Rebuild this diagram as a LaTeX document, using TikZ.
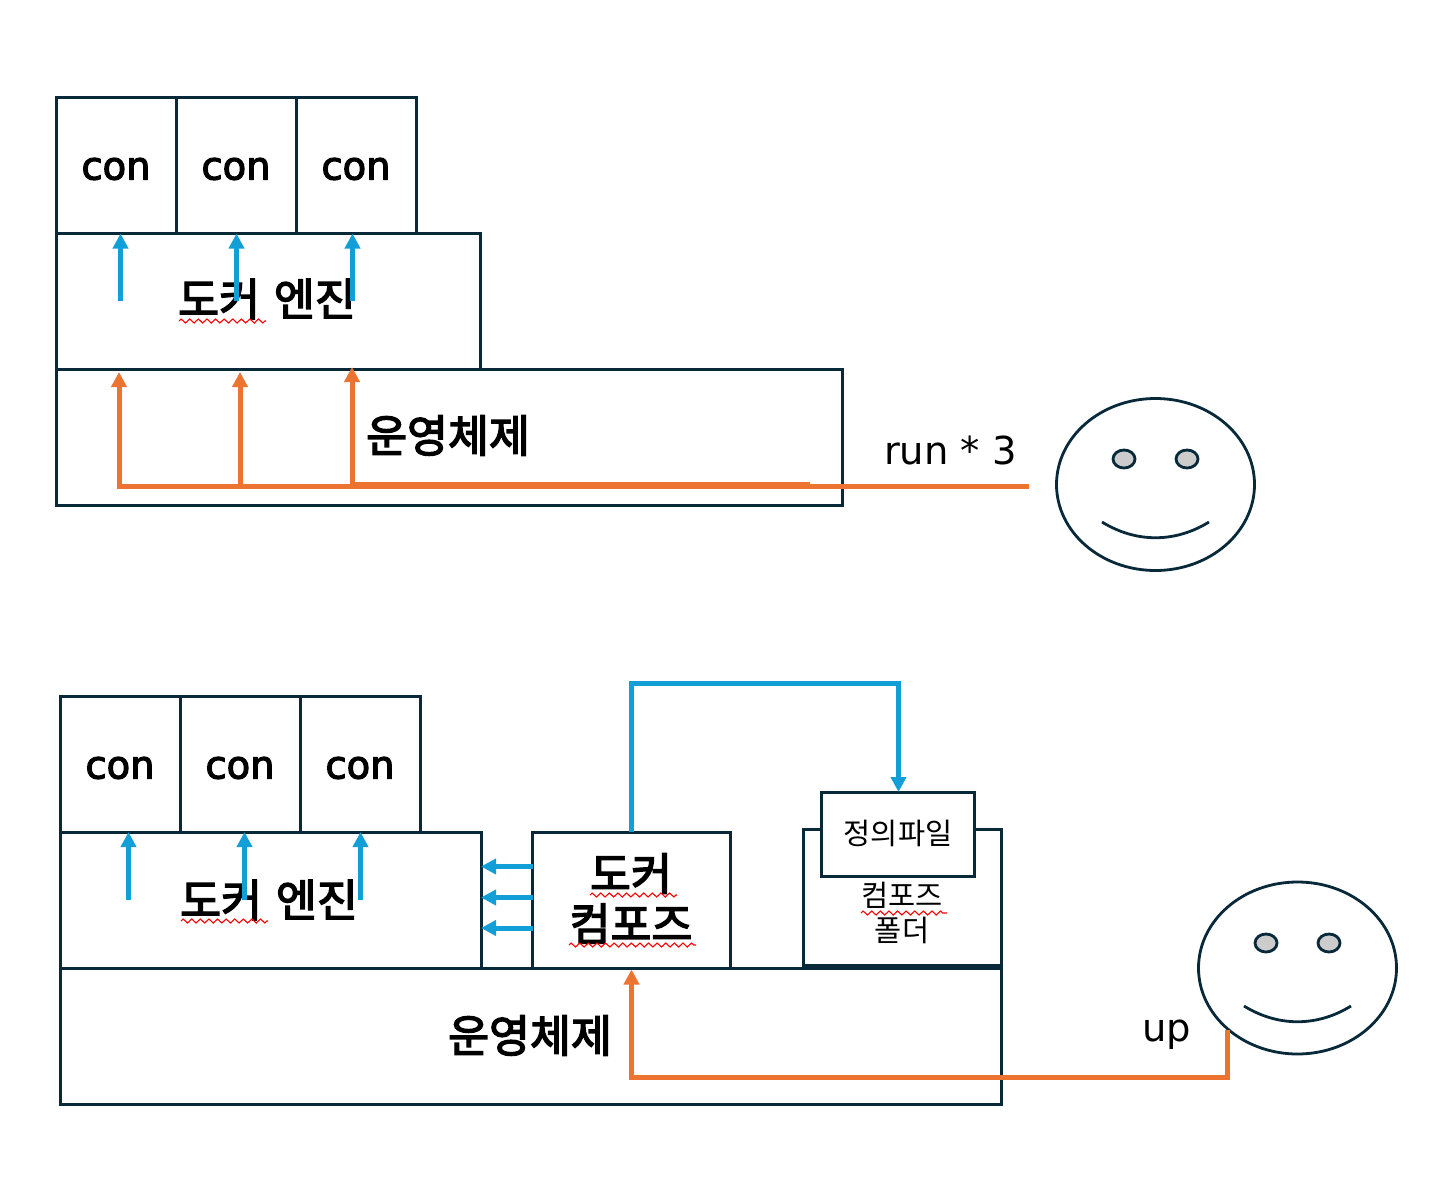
\documentclass[tikz,border=0pt]{standalone}
\usepackage{fontspec}
\usetikzlibrary{arrows.meta,shapes.geometric,decorations.pathmorphing}
\setmainfont{Noto Sans CJK KR}
\newfontfamily\krbold[FakeBold=3.2]{Noto Sans CJK KR}
\newfontfamily\latbold[FakeBold=3.2]{DejaVu Sans}
\newfontfamily\latreg{DejaVu Sans}
\definecolor{ink}{HTML}{08293A}
\definecolor{bluea}{HTML}{129FD8}
\definecolor{orangea}{HTML}{ED7331}
\tikzset{
  box/.style={draw=ink,line width=3pt,fill=white,rectangle,inner sep=0pt,outer sep=0pt,minimum width=#1},
  bigk/.style={font=\krbold\fontsize{44.5}{50}\selectfont,text=black,inner sep=0pt,align=center},
  conlab/.style={font=\latbold\fontsize{38.5}{44}\selectfont,text=black,inner sep=0pt},
  smallk/.style={font=\fontsize{29.5}{33}\selectfont,text=black,inner sep=0pt,align=center},
  lat/.style={font=\latreg\fontsize{38.5}{44}\selectfont,text=black,inner sep=0pt},
  bluearrow/.style={draw=bluea,line width=5pt,-{Triangle[length=15pt,width=15pt]}},
  orangearrow/.style={draw=orangea,line width=5pt,-{Triangle[length=15pt,width=15pt]}},
  orangeline/.style={draw=orangea,line width=5pt},
  squig/.style={draw=red,line width=1.1pt,decorate,decoration={zigzag,segment length=8.6pt,amplitude=2pt}},
  faceshape/.style={draw=ink,line width=2.8pt,ellipse,inner sep=0pt,outer sep=0pt,minimum width=198pt,minimum height=172pt,fill=white},
  eyeshape/.style={draw=ink,line width=2.8pt,ellipse,inner sep=0pt,outer sep=0pt,minimum width=22pt,minimum height=18pt,fill=black!20},
  smile/.style={draw=ink,line width=2.8pt}
}
\begin{document}
\begin{tikzpicture}[x=1pt,y=-1pt]
\useasboundingbox (0,0) rectangle (1448,1188);
% ---- top stack
\node[box=120pt,minimum height=136pt,anchor=north west] (c1) at (56.5,97.5) {};
\node[box=120pt,minimum height=136pt,anchor=north west] (c2) at (176.5,97.5) {};
\node[box=120pt,minimum height=136pt,anchor=north west] (c3) at (296.5,97.5) {};
\node[box=424pt,minimum height=136pt,anchor=north west] (eng) at (56.5,233.5) {};
\node[box=786pt,minimum height=136pt,anchor=north west] (os) at (56.5,369.5) {};
\node[conlab] (c1t) at (116,169) {con};
\node[conlab] (c2t) at (236,169) {con};
\node[conlab] (c3t) at (356,169) {con};
\node[bigk] (engt) at (267,299) {도커\hspace{4pt} 엔진};
\node[bigk] (ost) at (448,435.5) {운영체제};
\draw[squig] (179,321) -- (266,321);
\node[lat] (run) at (950.5,450) {run * 3};
% face 1
\node[faceshape] (f1) at (1155.5,484.5) {};
\node[eyeshape] (f1a) at (1124,459) {};
\node[eyeshape] (f1b) at (1187,459) {};
\coordinate (f1l) at (1102,522);
\coordinate (f1r) at (1209,522);
\draw[smile] (f1l) .. controls (1136,543) and (1175,543) .. (f1r);
% top arrows
\coordinate (b1) at (120.5,301);
\coordinate (b2) at (236.5,301);
\coordinate (b3) at (352.5,301);
\draw[bluearrow] (b1) -- (b1 |- eng.north);
\draw[bluearrow] (b2) -- (b2 |- eng.north);
\draw[bluearrow] (b3) -- (b3 |- eng.north);
\coordinate (o0) at (1029,486.5);
\coordinate (o1) at (119,486.5);
\coordinate (o1t) at (119,372);
\coordinate (o2) at (240,486.5);
\coordinate (o2t) at (240,372);
\coordinate (o3) at (352,486.5);
\coordinate (o3t) at (352,367);
\coordinate (o4) at (810,484.5);
\coordinate (o5) at (352,484.5);
\draw[orangearrow] (o0) -- (o1) -- (o1t);
\draw[orangearrow] (o2) -- (o2t);
\draw[orangearrow] (o3) -- (o3t);
\draw[orangeline] (o5) -- (o4);
% ---- bottom stack
\node[box=120pt,minimum height=136pt,anchor=north west] (d1) at (60.5,696) {};
\node[box=120pt,minimum height=136pt,anchor=north west] (d2) at (180.5,696) {};
\node[box=120pt,minimum height=136pt,anchor=north west] (d3) at (300.5,696) {};
\node[box=420.5pt,minimum height=136pt,anchor=north west] (eng2) at (60.5,832) {};
\node[box=198pt,minimum height=136pt,anchor=north west] (comp) at (532.5,832) {};
\node[box=198pt,minimum height=137pt,anchor=north west] (fold) at (803.5,829) {};
\node[box=941pt,minimum height=136pt,anchor=north west] (os2) at (60.5,968) {};
\node[box=153pt,minimum height=84pt,anchor=north west] (file) at (821.5,792) {};
\coordinate (foldl) at (803.5,966);
\coordinate (foldr) at (1001.5,966);
\draw[draw=ink,line width=4.5pt] (foldl) -- (foldr);
\node[conlab] (d1t) at (120,768) {con};
\node[conlab] (d2t) at (240,768) {con};
\node[conlab] (d3t) at (360,768) {con};
\node[bigk] (eng2t) at (269,900) {도커\hspace{4pt} 엔진};
\node[bigk] (os2t) at (530,1035.5) {운영체제};
\node[bigk] (comp1) at (631,873.5) {도커};
\node[bigk] (comp2) at (631,923.5) {컴포즈};
\node[smallk] (filet) at (898,833.5) {정의파일};
\node[smallk] (fold1) at (902,895.5) {컴포즈};
\node[smallk] (fold2) at (902,930.5) {폴더};
\draw[squig] (181,921) -- (268,921);
\draw[squig] (590,895) -- (677,895);
\draw[squig] (569,945) -- (696,945);
\draw[squig] (861,913) -- (947,913);
\node[lat] (up) at (1166.5,1035) {up};
% face 2
\node[faceshape] (f2) at (1297.5,968) {};
\node[eyeshape] (f2a) at (1266,943) {};
\node[eyeshape] (f2b) at (1329,943) {};
\coordinate (f2l) at (1244,1006);
\coordinate (f2r) at (1351,1006);
\draw[smile] (f2l) .. controls (1278,1027) and (1317,1027) .. (f2r);
% bottom arrows
\coordinate (e1) at (128.5,900);
\coordinate (e2) at (244.5,900);
\coordinate (e3) at (360.5,900);
\draw[bluearrow] (e1) -- (e1 |- eng2.north);
\draw[bluearrow] (e2) -- (e2 |- eng2.north);
\draw[bluearrow] (e3) -- (e3 |- eng2.north);
\coordinate (l1) at (533,866.5);
\coordinate (l2) at (533,897.5);
\coordinate (l3) at (533,928);
\draw[bluearrow] (l1) -- (l1 -| eng2.east);
\draw[bluearrow] (l2) -- (l2 -| eng2.east);
\draw[bluearrow] (l3) -- (l3 -| eng2.east);
\coordinate (top1) at (631.5,683);
\coordinate (top2) at (898.5,683);
\draw[bluearrow] (top1 |- comp.north) -- (top1) -- (top2) -- (top2 |- file.north);
\coordinate (u0) at (1227,1030);
\coordinate (u1) at (1227,1077.5);
\coordinate (u2) at (631.5,1077.5);
\coordinate (u3) at (631.5,969.5);
\draw[orangearrow] (u0) -- (u1) -- (u2) -- (u3);
\end{tikzpicture}
\end{document}
